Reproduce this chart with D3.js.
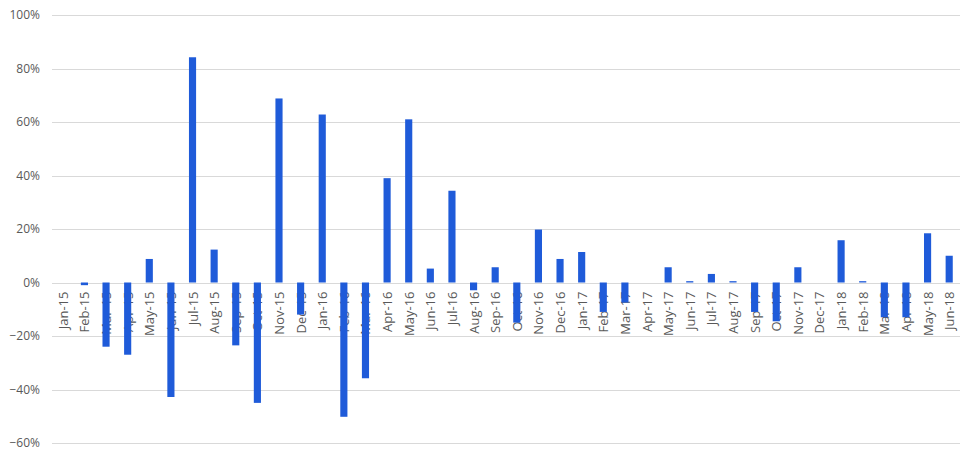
<!DOCTYPE html>
<html>
<head>
<meta charset="utf-8">
<script src="https://cdn.jsdelivr.net/npm/d3@7"></script>
<style>
  html, body { margin: 0; padding: 0; background: #fff; }
  svg { display: block; }
</style>
</head>
<body>
<svg id="chart" width="975" height="458"></svg>
<script>
const categories = [
  "Jan-15","Feb-15","Mar-15","Apr-15","May-15","Jun-15","Jul-15","Aug-15","Sep-15","Oct-15","Nov-15","Dec-15",
  "Jan-16","Feb-16","Mar-16","Apr-16","May-16","Jun-16","Jul-16","Aug-16","Sep-16","Oct-16","Nov-16","Dec-16",
  "Jan-17","Feb-17","Mar-17","Apr-17","May-17","Jun-17","Jul-17","Aug-17","Sep-17","Oct-17","Nov-17","Dec-17",
  "Jan-18","Feb-18","Mar-18","Apr-18","May-18","Jun-18"
];
const values = [
  0, -0.01, -0.24, -0.27, 0.088, -0.428, 0.842, 0.123, -0.235, -0.45, 0.688, -0.12,
  0.628, -0.502, -0.358, 0.39, 0.61, 0.052, 0.343, -0.029, 0.057, -0.15, 0.198, 0.088,
  0.114, -0.11, -0.075, 0, 0.057, 0.005, 0.032, 0.005, -0.11, -0.145, 0.057, 0,
  0.158, 0.005, -0.13, -0.13, 0.184, 0.10
];
const yTicks = [-0.6, -0.4, -0.2, 0, 0.2, 0.4, 0.6, 0.8, 1.0];

const svg = d3.select("#chart");
const margin = { left: 52, right: 15, top: 15, bottom: 15 };
const W = 975, H = 458;

const x = d3.scaleBand().domain(categories).range([margin.left, W - margin.right]).paddingInner(0.67).paddingOuter(0.335);
const y = d3.scaleLinear().domain([-0.6, 1.0]).range([443, 15]);

const font = "'Open Sans', 'Liberation Sans', sans-serif";

// gridlines
svg.append("g")
  .selectAll("line")
  .data(yTicks)
  .join("line")
  .attr("x1", margin.left)
  .attr("x2", W - margin.right)
  .attr("y1", d => Math.round(y(d)) + 0.5)
  .attr("y2", d => Math.round(y(d)) + 0.5)
  .attr("stroke", "#d9d9d9")
  .attr("stroke-width", 1);

// y labels
const yAxis = d3.axisLeft(y).tickValues(yTicks).tickFormat(d3.format(".0%")).tickSize(0).tickPadding(0);
const ya = svg.append("g").attr("transform", "translate(40,0)").call(yAxis);
ya.select(".domain").remove();
ya.selectAll("text").attr("fill", "#595959").attr("font-family", font).attr("font-size", 12);

// x labels (next to axis), drawn beneath the bars
const xAxis = d3.axisBottom(x).tickSize(0).tickPadding(0);
const xa = svg.append("g").attr("transform", `translate(0,${y(0)})`).call(xAxis);
xa.select(".domain").remove();
xa.selectAll("text")
  .attr("fill", "#595959")
  .attr("font-family", font)
  .attr("font-size", 13)
  .attr("text-anchor", "end")
  .attr("dy", null)
  .attr("y", 0)
  .attr("transform", "translate(5,9) rotate(-90)");

// bars
svg.append("g")
  .selectAll("rect")
  .data(values.map((v, i) => ({ c: categories[i], v })))
  .join("rect")
  .attr("x", d => x(d.c))
  .attr("width", x.bandwidth())
  .attr("y", d => y(Math.max(0, d.v)))
  .attr("height", d => Math.abs(y(d.v) - y(0)))
  .attr("fill", "#1f5bd9");
</script>
</body>
</html>
